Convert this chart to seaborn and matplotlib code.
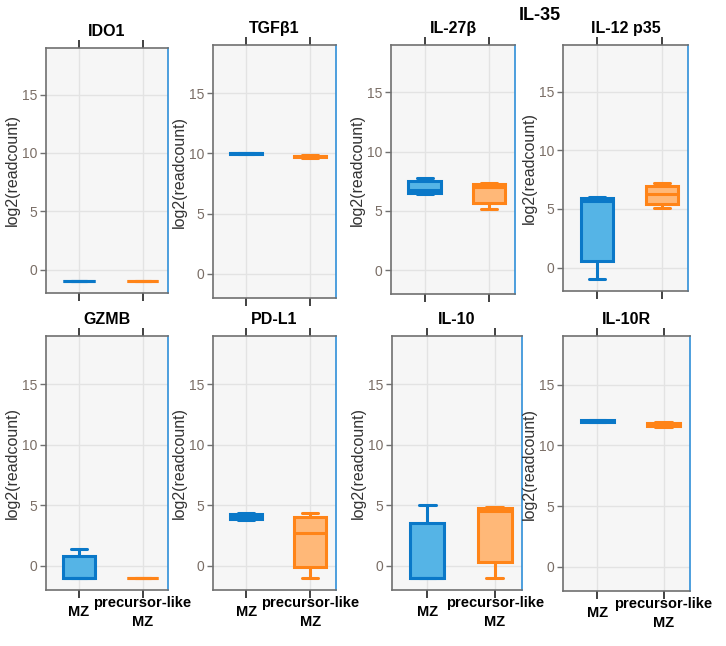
import matplotlib
matplotlib.use("Agg")
import matplotlib.pyplot as plt
import seaborn as sns

sns.set_theme(style="white")
plt.rcParams['font.family'] = ['Liberation Sans', 'DejaVu Sans']

genes = ["IDO1", "TGFβ1", "IL-27β", "IL-12 p35", "GZMB", "PD-L1", "IL-10", "IL-10R"]
groups = ["MZ", "precursor-like\nMZ"]
yticks = [0, 5, 10, 15]

# per-sample log2(readcount) values (5 samples each)
ido1_mz = [-1.0, -1.0, -1.0, -1.0, -1.0]
ido1_pmz = [-1.0, -1.0, -1.0, -1.0, -1.0]
tgfb1_mz = [9.95, 9.97, 10.0, 10.03, 10.05]
tgfb1_pmz = [9.65, 9.7, 9.75, 9.82, 9.85]
il27b_mz = [6.4, 6.5, 6.8, 7.5, 7.8]
il27b_pmz = [5.2, 5.7, 7.0, 7.3, 7.4]
il12p35_mz = [-1.0, 0.6, 5.7, 5.9, 6.0]
il12p35_pmz = [5.1, 5.4, 6.3, 7.0, 7.2]
gzmb_mz = [-1.0, -1.0, -1.0, 0.8, 1.4]
gzmb_pmz = [-1.0, -1.0, -1.0, -1.0, -1.0]
pdl1_mz = [3.8, 3.85, 4.0, 4.3, 4.4]
pdl1_pmz = [-1.0, -0.1, 2.7, 4.0, 4.4]
il10_mz = [-1.0, -1.0, -1.0, 3.5, 5.0]
il10_pmz = [-1.0, 0.3, 4.5, 4.8, 4.9]
il10r_mz = [11.9, 11.95, 12.0, 12.05, 12.1]
il10r_pmz = [11.5, 11.55, 11.7, 11.85, 11.9]

mz_series = [ido1_mz, tgfb1_mz, il27b_mz, il12p35_mz, gzmb_mz, pdl1_mz, il10_mz, il10r_mz]
pmz_series = [ido1_pmz, tgfb1_pmz, il27b_pmz, il12p35_pmz, gzmb_pmz, pdl1_pmz, il10_pmz, il10r_pmz]

W, H = 726, 646
fig = plt.figure(figsize=(W / 100, H / 100), dpi=100)

# axes boxes in pixels: (left, top, right, bottom)
boxes = [
    (46, 48, 168, 293), (213, 45, 336, 298), (391, 45, 515, 294), (563, 45, 688, 291),
    (46, 336, 168, 590), (213, 336, 336, 590), (392, 336, 522, 590), (563, 336, 690, 591),
]

blue_edge, blue_fill = "#0a78c8", "#55b4e6"
orange_edge, orange_fill = "#ff8418", "#ffb878"

for i, gene in enumerate(genes):
    l, t, r, b = boxes[i]
    ax = fig.add_axes([l / W, 1 - b / H, (r - l) / W, (b - t) / H])
    ax.set_facecolor("#f6f6f6")
    sns.boxplot(x=[groups[0]] * len(mz_series[i]), y=mz_series[i], order=groups, ax=ax,
                color=blue_fill, linecolor=blue_edge, linewidth=2.2, width=0.5,
                whis=(0, 100), saturation=1)
    sns.boxplot(x=[groups[1]] * len(pmz_series[i]), y=pmz_series[i], order=groups, ax=ax,
                color=orange_fill, linecolor=orange_edge, linewidth=2.2, width=0.5,
                whis=(0, 100), saturation=1)
    ax.set_ylim(-2, 19)
    ax.set_xlim(-0.52, 1.4)
    ax.set_yticks(yticks)
    ax.set_yticklabels([str(v) for v in yticks])
    ax.grid(True, color="#e3e3e3", linewidth=1)
    ax.set_axisbelow(True)
    for side in ["left", "top", "bottom"]:
        ax.spines[side].set_visible(True)
        ax.spines[side].set_color("#707070")
        ax.spines[side].set_linewidth(1.2)
    ax.spines["right"].set_visible(True)
    ax.spines["right"].set_color("#2f8fd8")
    ax.spines["right"].set_linewidth(1.2)
    ax.tick_params(axis="y", left=True, length=4, width=1, color="#707070",
                   labelsize=10, labelcolor="#7a6e66", pad=2)
    ax.tick_params(axis="x", top=True, bottom=True, length=6, width=1.3, color="#333333")
    ax.set_ylabel("log2(readcount)", fontsize=11.5, color="#333333", labelpad=2)
    ax.set_xlabel("")
    ax.set_title(gene, fontsize=11.5, fontweight="bold", color="black", pad=9)
    if i >= 4:
        ax.set_xticks([0, 1])
        ax.set_xticklabels(groups, fontsize=10.5, fontweight="bold", color="black",
                           va="center", linespacing=1.45)
        ax.tick_params(axis="x", pad=10)
    else:
        ax.set_xticklabels([])

fig.text(540 / W, 1 - 16 / H, "IL-35", ha="center", va="center",
         fontsize=13, fontweight="bold", color="black")

fig.savefig("out.png", dpi=100, facecolor="white")
